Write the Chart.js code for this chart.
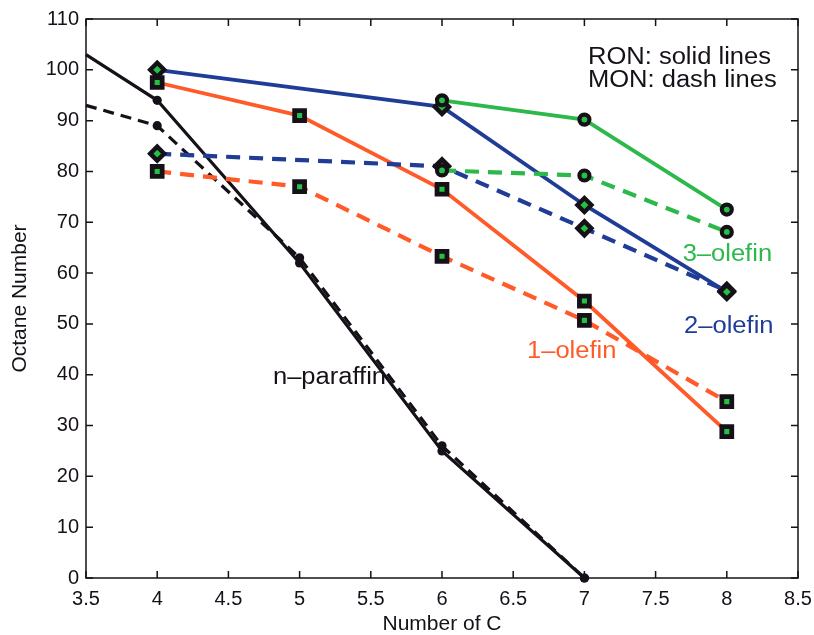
<!DOCTYPE html>
<html>
<head>
<meta charset="utf-8">
<script src="https://cdn.jsdelivr.net/npm/chart.js@4.4.1/dist/chart.umd.min.js"></script>
<style>
  html, body { margin: 0; padding: 0; background: #fff; }
  #wrap { width: 814px; height: 635px; }
</style>
</head>
<body>
<div id="wrap"><canvas id="c" width="814" height="635"></canvas></div>
<script>
// Carbon numbers
const cParaffin = [3.5, 4, 5, 6, 7];
const c1Olefin = [4, 5, 6, 7, 8];
const c2Olefin = [4, 6, 7, 8];
const c3Olefin = [6, 7, 8];

// Octane numbers (RON = research, MON = motor)
const paraffinRON = [103, 94, 62, 25, 0];
const paraffinMON = [93, 89, 63, 26, 0];
const olefin1RON = [97.5, 91, 76.5, 54.5, 28.8];
const olefin1MON = [80, 77, 63.3, 50.7, 34.7];
const olefin2RON = [100, 92.7, 73.4, 56.3];
const olefin2MON = [83.5, 81, 68.8, 56.5];
const olefin3RON = [94, 90.2, 72.5];
const olefin3MON = [80.2, 79.2, 68.1];

// Axis ticks
const xTicks = [3.5, 4, 4.5, 5, 5.5, 6, 6.5, 7, 7.5, 8, 8.5];
const yTicks = [0, 10, 20, 30, 40, 50, 60, 70, 80, 90, 100, 110];

const FONT = "'Liberation Sans', Arial, Helvetica, sans-serif";
const ORANGE = '#FF5A28';
const BLUE = '#1F3C96';
const GREEN = '#2DB84B';
const DOT = '#22C245';
const INK = '#161018';

// Text notes placed in data coordinates
const notes = [
  { text: 'RON: solid lines', x: 7.025, y: 101.1, color: INK },
  { text: 'MON: dash lines', x: 7.025, y: 96.6, color: INK },
  { text: '3\u2013olefin', x: 7.69, y: 62.35, color: GREEN },
  { text: '2\u2013olefin', x: 7.70, y: 48.2, color: BLUE },
  { text: '1\u2013olefin', x: 6.597, y: 43.3, color: ORANGE },
  { text: 'n\u2013paraffin', x: 4.813, y: 38.2, color: INK }
];

const pts = (xs, ys) => xs.map((x, i) => ({ x, y: ys[i] }));

function series(label, xs, ys, color, dashed, marker) {
  const base = {
    label,
    data: pts(xs, ys),
    borderColor: color,
    borderWidth: dashed ? 4.2 : 3.8,
    borderDash: dashed ? [14, 9] : [],
    fill: false,
    tension: 0,
    clip: false,
    pointBorderColor: INK,
    pointBackgroundColor: DOT,
    pointHoverRadius: 0
  };
  if (marker === 'rect') Object.assign(base, { pointStyle: 'rect', pointRadius: 7, pointBorderWidth: 4.8 });
  if (marker === 'rectRot') Object.assign(base, { pointStyle: 'rectRot', pointRadius: 7, pointBorderWidth: 4.4 });
  if (marker === 'ring') Object.assign(base, { pointStyle: 'circle', pointRadius: 5, pointBorderWidth: 4.2 });
  return base;
}

function paraffin(label, ys, dashed) {
  return {
    label,
    data: pts(cParaffin, ys),
    borderColor: INK,
    borderWidth: 3.2,
    borderDash: dashed ? [11, 7] : [],
    fill: false,
    tension: 0,
    clip: false,
    pointStyle: 'circle',
    pointRadius: cParaffin.map(c => (c < 4 ? 0 : 4.6)),
    pointBorderWidth: 0,
    pointBackgroundColor: INK,
    pointHoverRadius: 0
  };
}

const frame = {
  id: 'frame',
  beforeDatasetsDraw(chart) {
    const { ctx, chartArea: a, scales: { x, y } } = chart;
    ctx.save();
    ctx.strokeStyle = INK;
    ctx.lineWidth = 1.5;
    ctx.strokeRect(a.left, a.top, a.right - a.left, a.bottom - a.top);
    const L = 7;
    ctx.beginPath();
    x.ticks.forEach(t => {
      const px = x.getPixelForValue(t.value);
      ctx.moveTo(px, a.bottom); ctx.lineTo(px, a.bottom - L);
      ctx.moveTo(px, a.top); ctx.lineTo(px, a.top + L);
    });
    y.ticks.forEach(t => {
      const py = y.getPixelForValue(t.value);
      ctx.moveTo(a.left, py); ctx.lineTo(a.left + L, py);
      ctx.moveTo(a.right, py); ctx.lineTo(a.right - L, py);
    });
    ctx.stroke();
    ctx.restore();
  },
  afterDatasetsDraw(chart) {
    const { ctx, scales: { x, y } } = chart;
    ctx.save();
    ctx.font = '23px ' + FONT;
    ctx.textAlign = 'left';
    ctx.textBaseline = 'alphabetic';
    notes.forEach(n => {
      ctx.save();
      ctx.translate(x.getPixelForValue(n.x), y.getPixelForValue(n.y));
      ctx.scale(1.11, 1);
      ctx.fillStyle = n.color;
      ctx.fillText(n.text, 0, 0);
      ctx.restore();
    });
    ctx.restore();
  }
};

new Chart(document.getElementById('c'), {
  type: 'line',
  data: {
    datasets: [
      series('3-olefin RON', c3Olefin, olefin3RON, GREEN, false, 'ring'),
      series('3-olefin MON', c3Olefin, olefin3MON, GREEN, true, 'ring'),
      series('2-olefin RON', c2Olefin, olefin2RON, BLUE, false, 'rectRot'),
      series('2-olefin MON', c2Olefin, olefin2MON, BLUE, true, 'rectRot'),
      series('1-olefin RON', c1Olefin, olefin1RON, ORANGE, false, 'rect'),
      series('1-olefin MON', c1Olefin, olefin1MON, ORANGE, true, 'rect'),
      paraffin('n-paraffin RON', paraffinRON, false),
      paraffin('n-paraffin MON', paraffinMON, true)
    ]
  },
  options: {
    responsive: false,
    animation: false,
    events: [],
    layout: { autoPadding: false, padding: { top: 17, right: 16, left: 0, bottom: 0 } },
    plugins: { legend: { display: false }, tooltip: { enabled: false } },
    scales: {
      x: {
        type: 'linear',
        min: 3.5, max: 8.5,
        afterBuildTicks: s => { s.ticks = xTicks.map(v => ({ value: v })); },
        afterFit: s => { s.height = 57; s.paddingRight = 0; s.paddingLeft = 0; },
        grid: { display: false, drawTicks: false },
        border: { display: false },
        ticks: {
          color: INK, padding: 9, maxRotation: 0, autoSkip: false,
          font: { family: FONT, size: 20 },
          callback: v => String(v)
        },
        title: {
          display: true, text: 'Number of C', color: INK,
          font: { family: FONT, size: 21, lineHeight: 1.05 }, padding: { top: 0, bottom: 0 }
        }
      },
      y: {
        type: 'linear',
        min: 0, max: 110,
        afterBuildTicks: s => { s.ticks = yTicks.map(v => ({ value: v })); },
        afterFit: s => { s.width = 86; },
        grid: { display: false, drawTicks: false },
        border: { display: false },
        ticks: {
          color: INK, padding: 7, autoSkip: false,
          font: { family: FONT, size: 20 },
          callback: v => String(v)
        },
        title: {
          display: true, text: 'Octane Number', color: INK,
          font: { family: FONT, size: 21 }, padding: { top: 8, bottom: 0 }
        }
      }
    }
  },
  plugins: [frame]
});
</script>
</body>
</html>
